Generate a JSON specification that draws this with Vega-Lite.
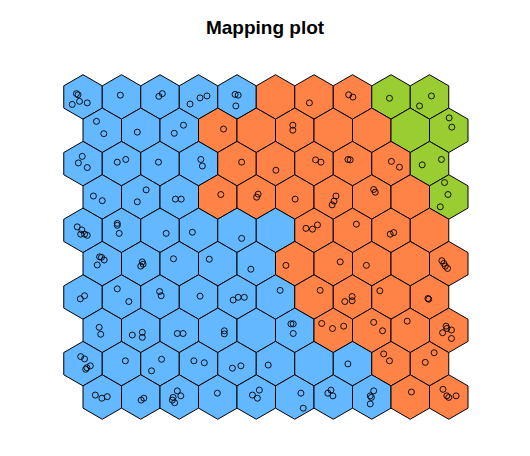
{
  "$schema": "https://vega.github.io/schema/vega-lite/v6.json",
  "width": 530,
  "height": 416,
  "autosize": "none",
  "padding": {"top": 40, "left": 0, "right": 0, "bottom": 0},
  "background": "white",
  "config": {"view": {"stroke": null}},
  "title": {"text": "Mapping plot", "font": "Liberation Sans", "fontSize": 19, "fontWeight": "bold", "color": "black", "anchor": "middle", "offset": 2},
  "datasets": {
    "cells": [
      {"x":1,"y":8.794,"k":"A"},{"x":2,"y":8.794,"k":"A"},{"x":3,"y":8.794,"k":"A"},{"x":4,"y":8.794,"k":"A"},{"x":5,"y":8.794,"k":"A"},{"x":6,"y":8.794,"k":"B"},{"x":7,"y":8.794,"k":"B"},{"x":8,"y":8.794,"k":"B"},{"x":9,"y":8.794,"k":"C"},{"x":10,"y":8.794,"k":"C"},
      {"x":1.5,"y":7.928,"k":"A"},{"x":2.5,"y":7.928,"k":"A"},{"x":3.5,"y":7.928,"k":"A"},{"x":4.5,"y":7.928,"k":"B"},{"x":5.5,"y":7.928,"k":"B"},{"x":6.5,"y":7.928,"k":"B"},{"x":7.5,"y":7.928,"k":"B"},{"x":8.5,"y":7.928,"k":"B"},{"x":9.5,"y":7.928,"k":"C"},{"x":10.5,"y":7.928,"k":"C"},
      {"x":1,"y":7.062,"k":"A"},{"x":2,"y":7.062,"k":"A"},{"x":3,"y":7.062,"k":"A"},{"x":4,"y":7.062,"k":"A"},{"x":5,"y":7.062,"k":"B"},{"x":6,"y":7.062,"k":"B"},{"x":7,"y":7.062,"k":"B"},{"x":8,"y":7.062,"k":"B"},{"x":9,"y":7.062,"k":"B"},{"x":10,"y":7.062,"k":"C"},
      {"x":1.5,"y":6.196,"k":"A"},{"x":2.5,"y":6.196,"k":"A"},{"x":3.5,"y":6.196,"k":"A"},{"x":4.5,"y":6.196,"k":"B"},{"x":5.5,"y":6.196,"k":"B"},{"x":6.5,"y":6.196,"k":"B"},{"x":7.5,"y":6.196,"k":"B"},{"x":8.5,"y":6.196,"k":"B"},{"x":9.5,"y":6.196,"k":"B"},{"x":10.5,"y":6.196,"k":"C"},
      {"x":1,"y":5.33,"k":"A"},{"x":2,"y":5.33,"k":"A"},{"x":3,"y":5.33,"k":"A"},{"x":4,"y":5.33,"k":"A"},{"x":5,"y":5.33,"k":"A"},{"x":6,"y":5.33,"k":"A"},{"x":7,"y":5.33,"k":"B"},{"x":8,"y":5.33,"k":"B"},{"x":9,"y":5.33,"k":"B"},{"x":10,"y":5.33,"k":"B"},
      {"x":1.5,"y":4.464,"k":"A"},{"x":2.5,"y":4.464,"k":"A"},{"x":3.5,"y":4.464,"k":"A"},{"x":4.5,"y":4.464,"k":"A"},{"x":5.5,"y":4.464,"k":"A"},{"x":6.5,"y":4.464,"k":"B"},{"x":7.5,"y":4.464,"k":"B"},{"x":8.5,"y":4.464,"k":"B"},{"x":9.5,"y":4.464,"k":"B"},{"x":10.5,"y":4.464,"k":"B"},
      {"x":1,"y":3.598,"k":"A"},{"x":2,"y":3.598,"k":"A"},{"x":3,"y":3.598,"k":"A"},{"x":4,"y":3.598,"k":"A"},{"x":5,"y":3.598,"k":"A"},{"x":6,"y":3.598,"k":"A"},{"x":7,"y":3.598,"k":"B"},{"x":8,"y":3.598,"k":"B"},{"x":9,"y":3.598,"k":"B"},{"x":10,"y":3.598,"k":"B"},
      {"x":1.5,"y":2.732,"k":"A"},{"x":2.5,"y":2.732,"k":"A"},{"x":3.5,"y":2.732,"k":"A"},{"x":4.5,"y":2.732,"k":"A"},{"x":5.5,"y":2.732,"k":"A"},{"x":6.5,"y":2.732,"k":"A"},{"x":7.5,"y":2.732,"k":"B"},{"x":8.5,"y":2.732,"k":"B"},{"x":9.5,"y":2.732,"k":"B"},{"x":10.5,"y":2.732,"k":"B"},
      {"x":1,"y":1.866,"k":"A"},{"x":2,"y":1.866,"k":"A"},{"x":3,"y":1.866,"k":"A"},{"x":4,"y":1.866,"k":"A"},{"x":5,"y":1.866,"k":"A"},{"x":6,"y":1.866,"k":"A"},{"x":7,"y":1.866,"k":"A"},{"x":8,"y":1.866,"k":"A"},{"x":9,"y":1.866,"k":"B"},{"x":10,"y":1.866,"k":"B"},
      {"x":1.5,"y":1,"k":"A"},{"x":2.5,"y":1,"k":"A"},{"x":3.5,"y":1,"k":"A"},{"x":4.5,"y":1,"k":"A"},{"x":5.5,"y":1,"k":"A"},{"x":6.5,"y":1,"k":"A"},{"x":7.5,"y":1,"k":"A"},{"x":8.5,"y":1,"k":"A"},{"x":9.5,"y":1,"k":"B"},{"x":10.5,"y":1,"k":"B"}
    ],
    "obs": [
      {"x":0.83,"y":8.88},{"x":0.87,"y":8.85},{"x":0.72,"y":8.6},{"x":0.91,"y":8.68},{"x":1.11,"y":8.64},
      {"x":1.97,"y":8.84},{"x":2.97,"y":8.81},{"x":3.06,"y":8.88},
      {"x":3.78,"y":8.61},{"x":4.04,"y":8.77},{"x":4.22,"y":8.82},
      {"x":4.95,"y":8.86},{"x":5.03,"y":8.84},{"x":4.97,"y":8.56},
      {"x":6.88,"y":8.64},{"x":7.9,"y":8.85},{"x":8.01,"y":8.79},{"x":8.96,"y":8.76},{"x":10.05,"y":8.82},{"x":9.74,"y":8.56},
      {"x":1.35,"y":8.16},{"x":1.54,"y":7.84},{"x":2.41,"y":7.88},{"x":3.37,"y":7.85},{"x":3.61,"y":8.06},{"x":4.65,"y":7.96},
      {"x":6.45,"y":8.06},{"x":6.45,"y":7.93},{"x":10.51,"y":8.25},{"x":10.58,"y":8.01},
      {"x":0.98,"y":7.25},{"x":0.88,"y":7.08},{"x":1.11,"y":6.96},{"x":1.89,"y":7.1},{"x":2.11,"y":7.17},{"x":2.96,"y":7.1},
      {"x":4.06,"y":7.17},{"x":4.1,"y":7.0},{"x":5.12,"y":7.1},{"x":6.01,"y":6.89},{"x":7.04,"y":7.16},{"x":7.18,"y":7.1},
      {"x":7.88,"y":7.17},{"x":7.94,"y":7.16},{"x":9.01,"y":7.12},{"x":9.22,"y":6.97},{"x":9.81,"y":7.03},{"x":10.31,"y":7.17},
      {"x":1.27,"y":6.22},{"x":1.5,"y":6.1},{"x":2.64,"y":6.38},{"x":2.41,"y":6.07},{"x":3.4,"y":6.14},{"x":3.55,"y":6.14},
      {"x":4.58,"y":6.26},{"x":5.51,"y":6.19},{"x":5.55,"y":6.27},{"x":6.51,"y":6.14},{"x":7.57,"y":6.22},{"x":7.52,"y":6.09},{"x":7.47,"y":5.99},
      {"x":8.55,"y":6.39},{"x":8.59,"y":6.32},{"x":10.39,"y":6.57},{"x":10.48,"y":6.26},{"x":10.28,"y":5.94},
      {"x":0.85,"y":5.42},{"x":0.97,"y":5.34},{"x":0.94,"y":5.23},{"x":1.04,"y":5.23},{"x":1.11,"y":5.2},
      {"x":1.89,"y":5.51},{"x":1.89,"y":5.46},{"x":1.94,"y":5.25},{"x":3.16,"y":5.25},{"x":3.84,"y":5.28},{"x":5.12,"y":5.12},
      {"x":6.79,"y":5.38},{"x":6.96,"y":5.36},{"x":7.09,"y":5.47},{"x":8.1,"y":5.49},{"x":8.98,"y":5.23},{"x":9.07,"y":5.27},
      {"x":1.43,"y":4.64},{"x":1.48,"y":4.63},{"x":1.55,"y":4.56},{"x":1.37,"y":4.43},
      {"x":2.54,"y":4.51},{"x":2.5,"y":4.4},{"x":2.56,"y":4.45},{"x":3.35,"y":4.59},{"x":4.28,"y":4.58},{"x":5.36,"y":4.32},
      {"x":6.27,"y":4.42},{"x":7.68,"y":4.51},{"x":8.36,"y":4.42},{"x":10.32,"y":4.54},{"x":10.37,"y":4.47},{"x":10.41,"y":4.4},{"x":10.47,"y":4.34},
      {"x":0.93,"y":3.55},{"x":1.04,"y":3.63},{"x":1.89,"y":3.81},{"x":2.19,"y":3.48},{"x":2.99,"y":3.74},{"x":3.03,"y":3.63},
      {"x":4.04,"y":3.62},{"x":5.03,"y":3.59},{"x":5.19,"y":3.59},{"x":4.9,"y":3.52},{"x":6.12,"y":3.77},{"x":7.16,"y":3.77},
      {"x":7.8,"y":3.48},{"x":7.99,"y":3.61},{"x":7.99,"y":3.5},{"x":8.71,"y":3.76},{"x":9.96,"y":3.56},{"x":9.98,"y":3.54},
      {"x":1.42,"y":2.81},{"x":1.46,"y":2.63},{"x":2.28,"y":2.61},{"x":2.54,"y":2.68},{"x":2.54,"y":2.55},{"x":3.45,"y":2.65},{"x":3.6,"y":2.65},
      {"x":4.67,"y":2.72},{"x":4.67,"y":2.64},{"x":6.4,"y":2.9},{"x":6.46,"y":2.9},{"x":6.46,"y":2.65},
      {"x":7.2,"y":2.91},{"x":7.48,"y":2.78},{"x":7.77,"y":2.84},{"x":8.55,"y":2.94},{"x":8.78,"y":2.72},{"x":9.42,"y":2.97},
      {"x":10.43,"y":2.84},{"x":10.34,"y":2.67},{"x":10.57,"y":2.74},{"x":10.57,"y":2.52},{"x":10.45,"y":2.78},
      {"x":0.94,"y":2.05},{"x":1.04,"y":1.99},{"x":1.19,"y":1.81},{"x":1.07,"y":1.72},{"x":1.1,"y":1.76},
      {"x":2.1,"y":1.94},{"x":3.04,"y":1.98},{"x":2.78,"y":1.68},{"x":3.88,"y":1.94},{"x":4.15,"y":1.89},
      {"x":4.88,"y":1.75},{"x":5.1,"y":1.81},{"x":5.81,"y":1.83},{"x":7.88,"y":1.86},{"x":8.81,"y":2.12},{"x":8.96,"y":1.94},
      {"x":10.12,"y":2.15},{"x":9.89,"y":1.9},
      {"x":1.32,"y":1.05},{"x":1.49,"y":0.97},{"x":1.63,"y":1.01},{"x":2.51,"y":0.92},{"x":2.58,"y":0.97},
      {"x":3.45,"y":1.16},{"x":3.54,"y":1.03},{"x":3.34,"y":0.99},{"x":3.38,"y":0.85},{"x":3.32,"y":0.92},
      {"x":4.49,"y":1.1},{"x":5.4,"y":1.05},{"x":5.58,"y":1.18},{"x":5.53,"y":0.97},{"x":6.66,"y":1.1},{"x":6.72,"y":0.71},
      {"x":7.36,"y":1.1},{"x":7.44,"y":1.18},{"x":7.49,"y":1.03},
      {"x":8.55,"y":1.16},{"x":8.46,"y":1.03},{"x":8.49,"y":0.99},{"x":8.46,"y":0.82},{"x":9.53,"y":1.13},
      {"x":10.35,"y":1.2},{"x":10.45,"y":1.03},{"x":10.5,"y":0.99},{"x":10.69,"y":1.03}
    ]
  },
  "layer": [
    {
      "data": {"name": "cells"},
      "mark": {"type": "point", "shape": "M0,-1.1547L1,-0.57735L1,0.57735L0,1.1547L-1,0.57735L-1,-0.57735Z", "filled": true, "size": 1482, "opacity": 1, "stroke": "black", "strokeWidth": 1},
      "encoding": {
        "x": {"field": "x", "type": "quantitative", "scale": {"domain": [-1.156, 12.61], "nice": false, "zero": false}, "axis": null},
        "y": {"field": "y", "type": "quantitative", "scale": {"domain": [-0.532, 10.273], "nice": false, "zero": false}, "axis": null},
        "fill": {"field": "k", "type": "nominal", "scale": {"domain": ["A", "B", "C"], "range": ["#63B8FF", "#FF8247", "#9ACD32"]}, "legend": null}
      }
    },
    {
      "data": {"name": "obs"},
      "mark": {"type": "point", "shape": "circle", "filled": false, "size": 36, "opacity": 1, "stroke": "black", "strokeWidth": 0.9},
      "encoding": {
        "x": {"field": "x", "type": "quantitative", "scale": {"domain": [-1.156, 12.61], "nice": false, "zero": false}, "axis": null},
        "y": {"field": "y", "type": "quantitative", "scale": {"domain": [-0.532, 10.273], "nice": false, "zero": false}, "axis": null}
      }
    }
  ]
}
